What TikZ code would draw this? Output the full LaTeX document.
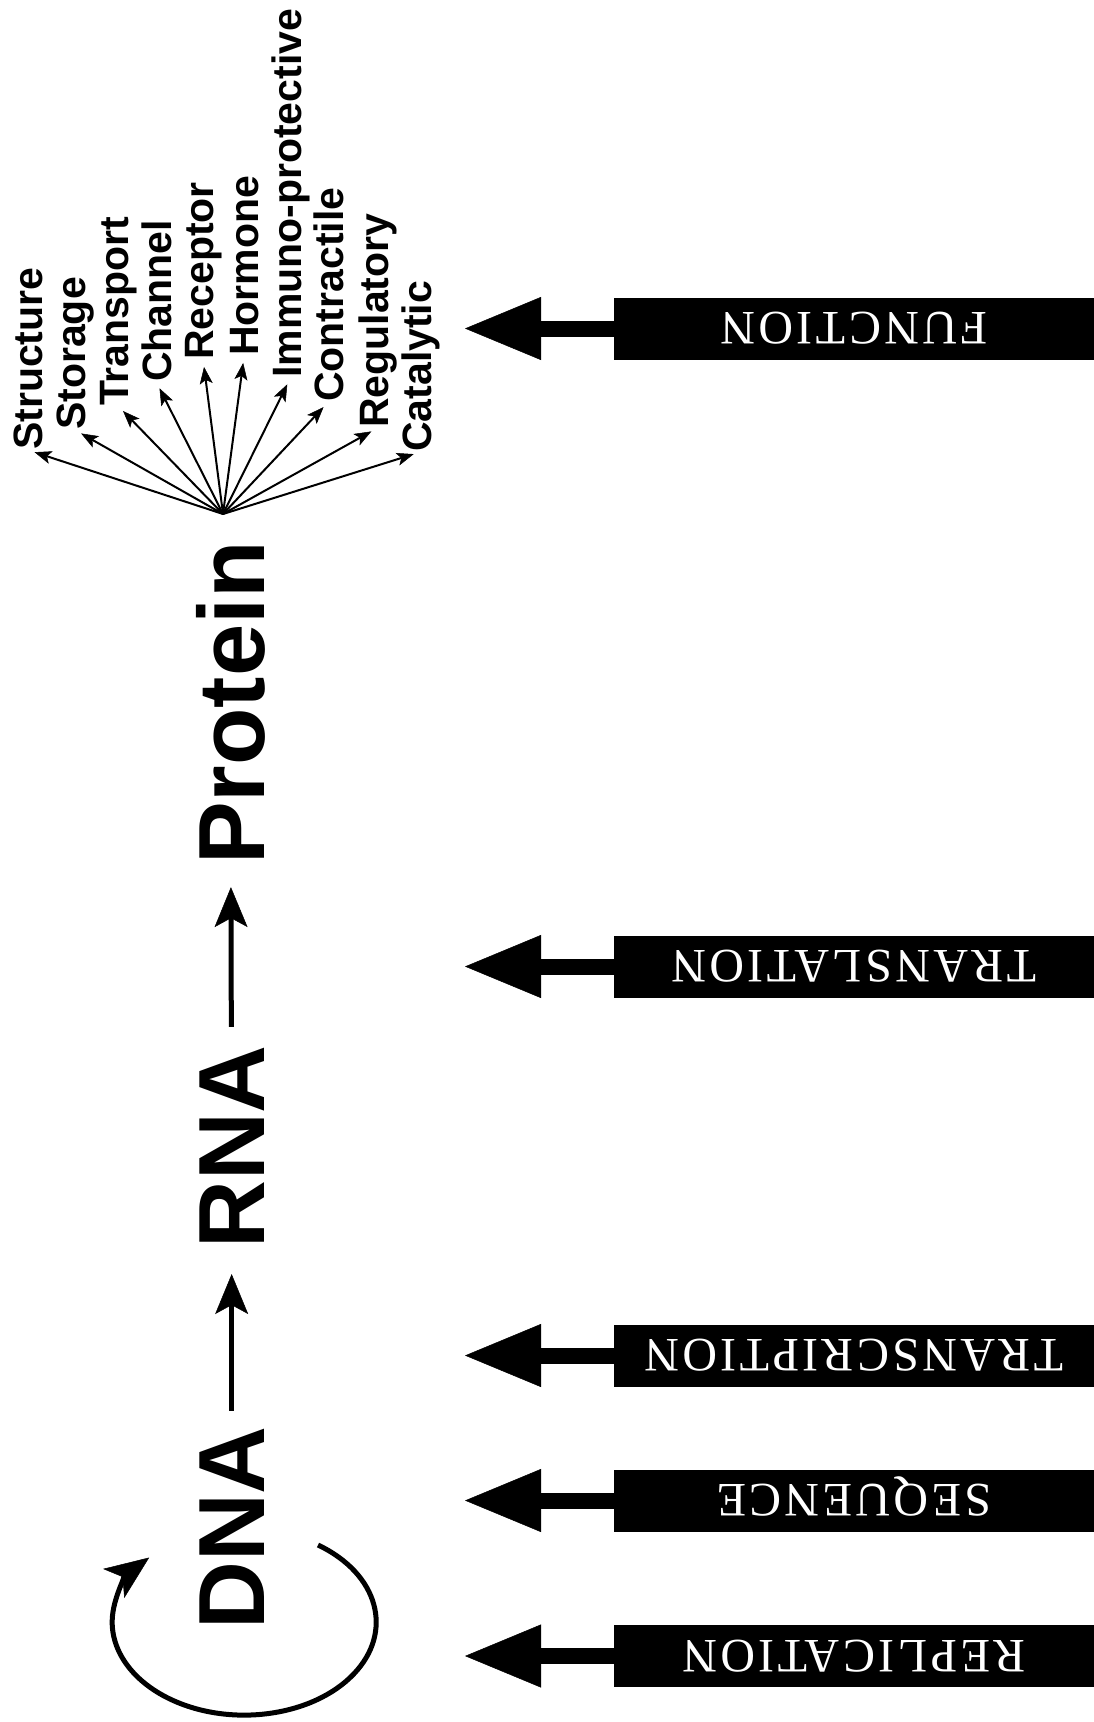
\documentclass[tikz,border=0pt]{standalone}
\usepackage{fontspec}
\setmainfont{Liberation Serif}
\newfontfamily\headfont{Liberation Sans}
\newfontfamily\tagfont[LetterSpace=7]{Liberation Serif}
\usetikzlibrary{arrows.meta}

\begin{document}
\begin{tikzpicture}[x=1pt,y=-1pt,
  stage/.style={font=\headfont\bfseries\fontsize{94}{94}\selectfont,
    rotate=90, anchor=base, inner sep=0pt},
  role/.style={font=\headfont\bfseries\fontsize{41}{41}\selectfont,
    rotate=90, anchor=base west, inner sep=0pt},
  flowarrow/.style={line width=5pt,
    -{Stealth[length=40pt,width=33pt,inset=9pt,line width=0.5pt]}},
  fanarrow/.style={line width=2pt, shorten >=7pt,
    -{Stealth[length=17pt,width=13pt,inset=4pt,line width=0.5pt]}},
  tag/.style={fill=black, text=white, minimum width=480pt,
    minimum height=62pt, inner sep=0pt,
    font=\tagfont\fontsize{48}{48}\selectfont},
  pointer/.style={line width=16pt,
    -{Triangle[length=76pt,width=63pt,line width=0.5pt]}}]

\useasboundingbox (0,0) rectangle (1094,1722);

% central dogma column
\node[stage] (dna) at (264,1528) {DNA};
\node[stage] (rna) at (264,1147) {RNA};
\node[stage] (protein) at (264,703) {Protein};
\draw[flowarrow, shorten <=15pt, shorten >=25pt] (dna) -- (rna);
\draw[flowarrow, shorten <=18pt, shorten >=22pt] (rna) -- (protein);

% replication loop around DNA
\coordinate (loopstart) at (318,1545);
\draw[line width=5pt, -{Stealth[length=44pt,width=36pt,inset=11pt,line width=0.5pt]}]
  (loopstart) arc[start angle=-56, end angle=224, x radius=132, y radius=93];

% protein roles
\coordinate (hub) at (223,514);
\node[role] (r1) at (42,450) {Structure};
\node[role] (r2) at (85,430) {Storage};
\node[role] (r3) at (128,406) {Transport};
\node[role] (r4) at (171,382) {Channel};
\node[role] (r5) at (213,360) {Receptor};
\node[role] (r6) at (258,356) {Hormone};
\node[role] (r7) at (301,378) {Immuno-protective};
\node[role] (r8) at (343,402) {Contractile};
\node[role] (r9) at (388,428) {Regulatory};
\node[role] (r10) at (431,452) {Catalytic};
\foreach \r in {r1,r2,r3,r4,r5,r6,r7,r8,r9,r10}
  \draw[fanarrow] (hub) -- (\r.west);

% level tags with pointers
\newcommand\tagtext[1]{\rotatebox{180}{\raisebox{0pt}[31.5pt][0pt]{#1}}}
\node[tag] (fn) at (854,328.5) {\tagtext{FUNCTION}};
\node[tag] (tl) at (854,966.5) {\tagtext{TRANSLATION}};
\node[tag] (tc) at (854,1355.5) {\tagtext{TRANSCRIPTION}};
\node[tag] (sq) at (854,1500.5) {\tagtext{SEQUENCE}};
\node[tag] (rp) at (854,1656) {\tagtext{REPLICATION}};

\coordinate (fnTip) at (465,328.5);
\coordinate (tlTip) at (465,966.5);
\coordinate (tcTip) at (465,1355.5);
\coordinate (sqTip) at (465,1500.5);
\coordinate (rpTip) at (465,1656);
\draw[pointer] (fn.west) -- (fnTip);
\draw[pointer] (tl.west) -- (tlTip);
\draw[pointer] (tc.west) -- (tcTip);
\draw[pointer] (sq.west) -- (sqTip);
\draw[pointer] (rp.west) -- (rpTip);
\end{tikzpicture}
\end{document}
